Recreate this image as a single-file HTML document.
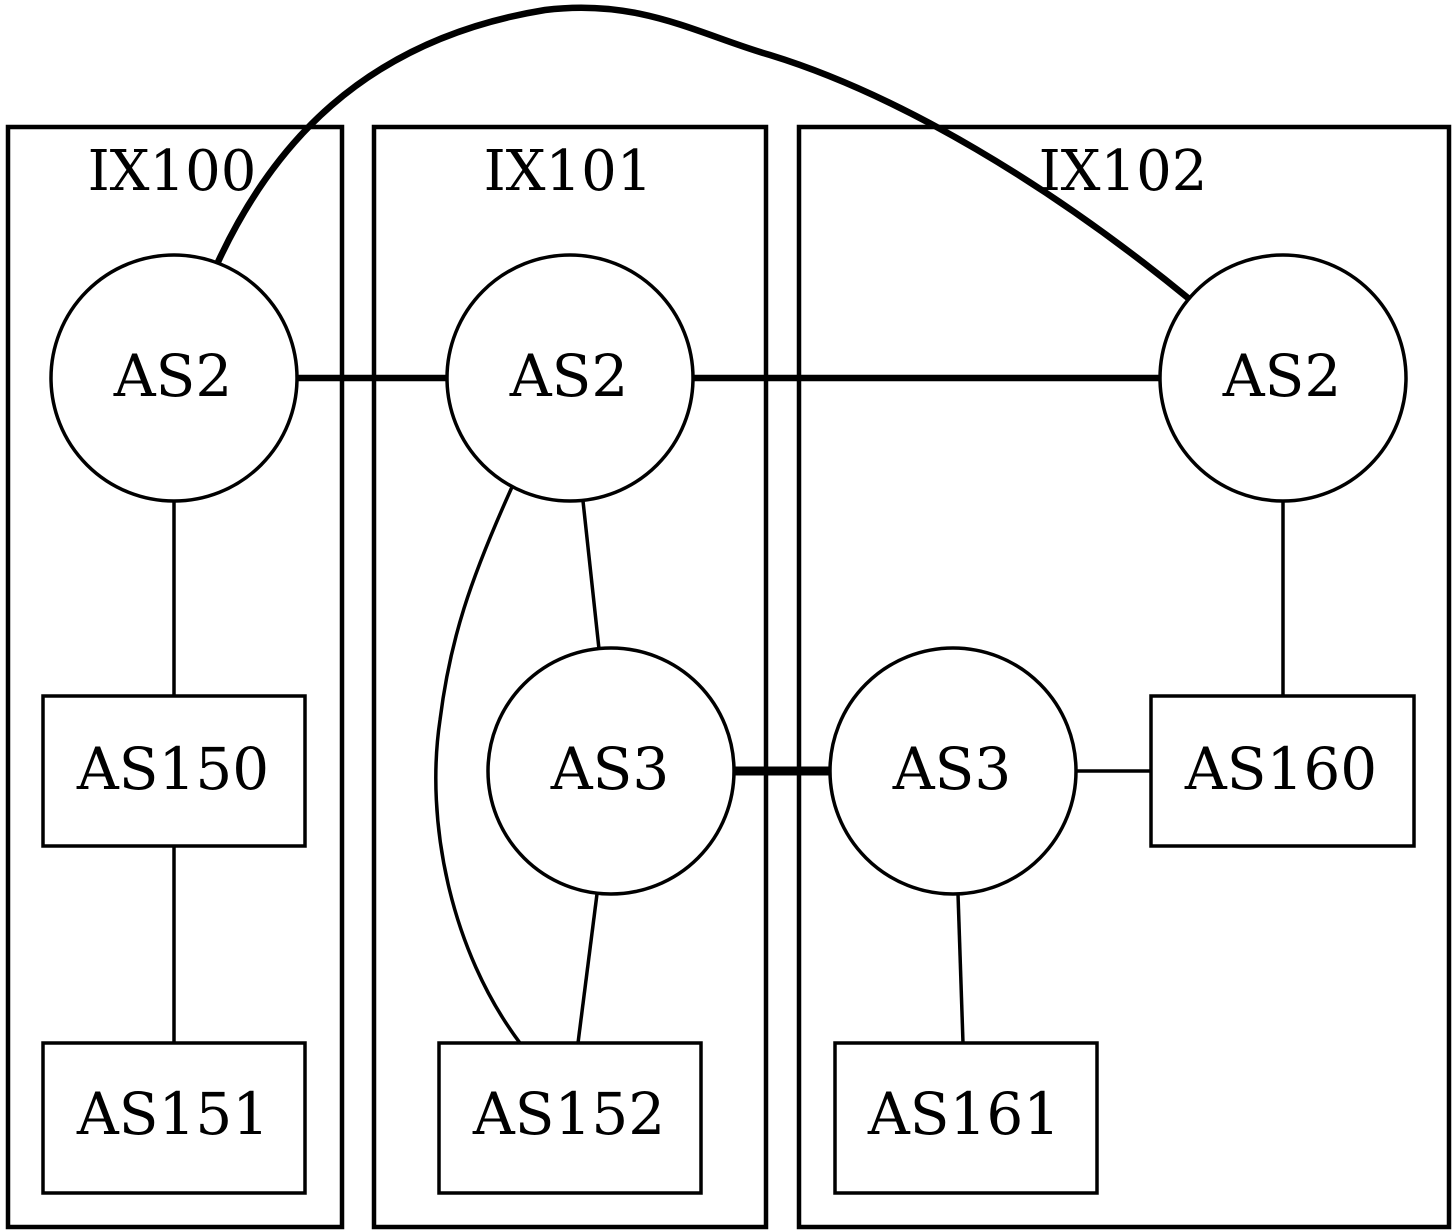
<!DOCTYPE html>
<html><head><meta charset="utf-8"><style>html,body{margin:0;padding:0;background:#fff}svg{display:block}</style></head>
<body>
<svg width="1456" height="1232" viewBox="0 0 1456 1232" xmlns="http://www.w3.org/2000/svg">
<g fill="none" stroke="#000">
<rect x="8" y="127" width="334" height="1100" stroke-width="4.5"/>
<rect x="374" y="127" width="392" height="1100" stroke-width="4.5"/>
<rect x="799" y="127" width="650" height="1100" stroke-width="4.5"/>
<path d="M297,378 H447" stroke-width="6.5"/>
<path d="M693,378 H1160" stroke-width="6.5"/>
<path d="M735,771 H830" stroke-width="9"/>
<path d="M218,262 C270,150 360,40 545,10 C640,-2 700,35 770,55 C900,95 1050,185 1188,298" stroke-width="6.5"/>
<g stroke-width="3.5">
<path d="M174,501 V696"/><path d="M174,846 V1043"/>
<path d="M583,501 L599,649"/><path d="M597,894 L578,1043"/>
<path d="M512,487 C470,580 450,640 440,720 C425,820 450,950 520,1043"/>
<path d="M1077,771 H1151"/><path d="M1283,501 V696"/><path d="M958,894 L963,1043"/>
<circle cx="174" cy="378" r="123"/><circle cx="570" cy="378" r="123"/><circle cx="1283" cy="378" r="123"/>
<circle cx="611" cy="771" r="123"/><circle cx="953" cy="771" r="123"/>
<rect x="43" y="696" width="262" height="150"/><rect x="43" y="1043" width="262" height="150"/>
<rect x="439" y="1043" width="262" height="150"/><rect x="1151" y="696" width="263" height="150"/>
<rect x="835" y="1043" width="262" height="150"/>
</g></g>
<g font-family="'DejaVu Serif','Liberation Serif',serif" text-anchor="middle" fill="#000">
<g font-size="56"><text x="172" y="190">IX100</text><text x="568" y="190">IX101</text><text x="1123" y="190">IX102</text></g>
<g font-size="58">
<text x="173" y="396">AS2</text><text x="569" y="396">AS2</text><text x="1282" y="396">AS2</text>
<text x="610" y="789">AS3</text><text x="952" y="789">AS3</text>
<text x="173" y="789">AS150</text><text x="173" y="1134">AS151</text><text x="569" y="1134">AS152</text>
<text x="1281" y="789">AS160</text><text x="964" y="1134">AS161</text>
</g></g>
</svg>
</body></html>
